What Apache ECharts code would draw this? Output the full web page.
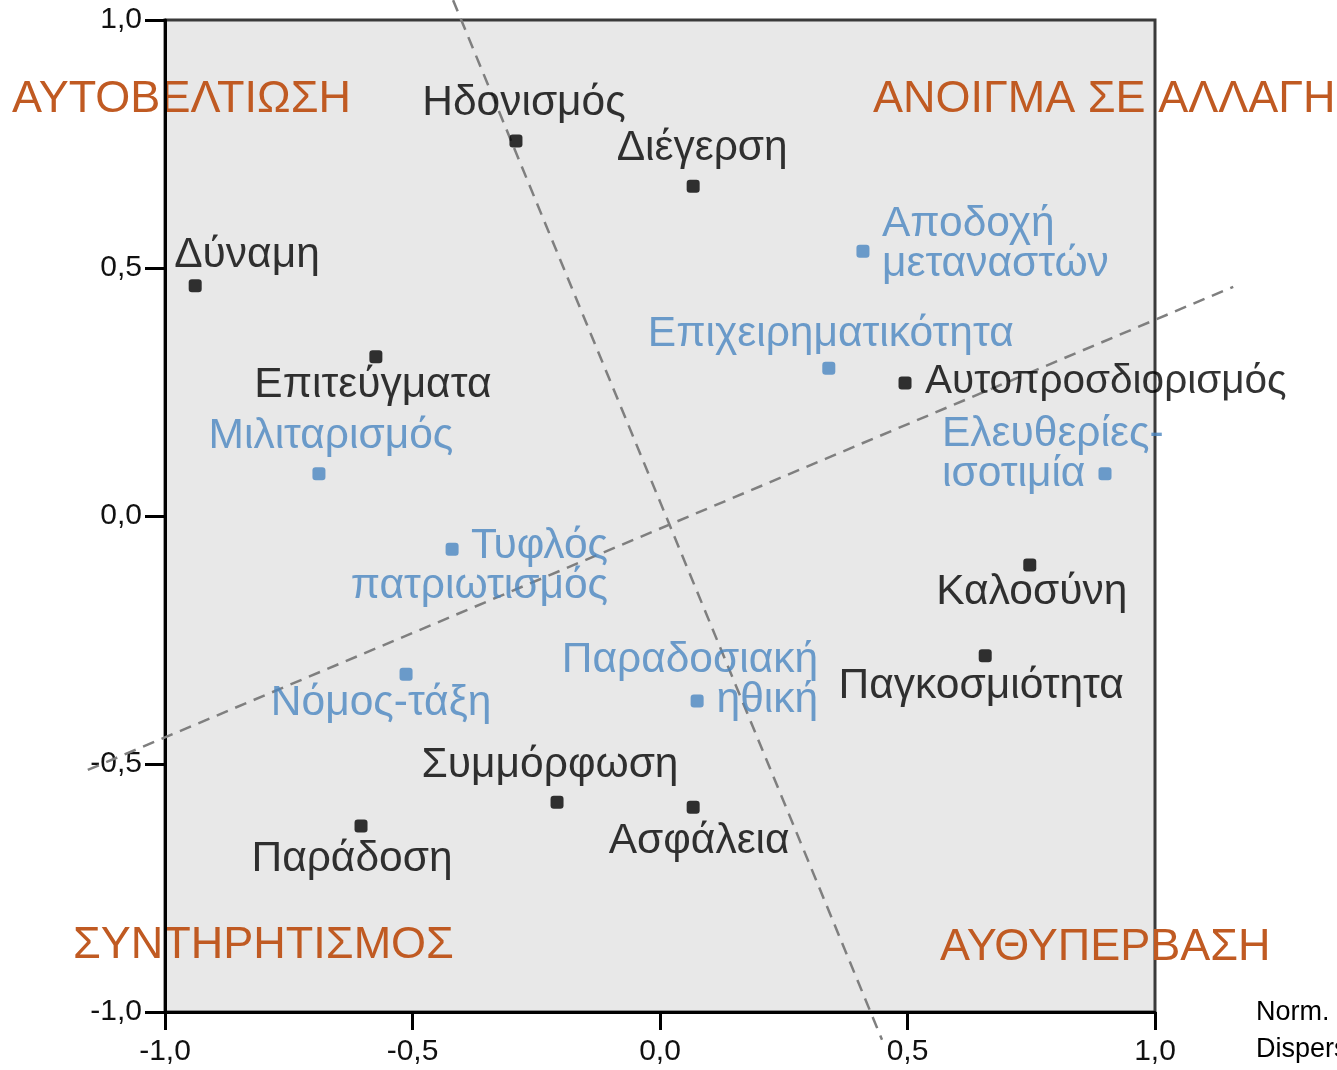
<!DOCTYPE html>
<html>
<head>
<meta charset="utf-8">
<script src="https://cdn.jsdelivr.net/npm/echarts@6/dist/echarts.min.js"></script>
<style>
  html, body { margin: 0; padding: 0; background: #fff; }
  #chart { width: 1337px; height: 1070px; }
</style>
</head>
<body>
<div id="chart"></div>
<script>
// values (black = basic values, blue = attitudes)
const valueNames = ['Ηδονισμός', 'Διέγερση', 'Δύναμη', 'Επιτεύγματα', 'Αυτοπροσδιορισμός',
  'Καλοσύνη', 'Παγκοσμιότητα', 'Συμμόρφωση', 'Ασφάλεια', 'Παράδοση']
const valueX = [-0.291, 0.067, -0.939, -0.574, 0.495, 0.747, 0.657, -0.208, 0.067, -0.604]
const valueY = [0.756, 0.665, 0.464, 0.321, 0.268, -0.099, -0.282, -0.577, -0.587, -0.625]

const attitudeNames = ['Αποδοχή\nμεταναστών', 'Επιχειρηματικότητα', 'Ελευθερίες-\nισοτιμία',
  'Μιλιταρισμός', 'Τυφλός\nπατριωτισμός', 'Νόμος-τάξη', 'Παραδοσιακή\nηθική']
const attitudeX = [0.410, 0.341, 0.899, -0.689, -0.420, -0.513, 0.075]
const attitudeY = [0.534, 0.298, 0.085, 0.085, -0.067, -0.319, -0.373]

// dashed dividing lines
const line1 = [[-0.418, 1.040], [0.4485, -1.056]]
const line2 = [[-1.156, -0.512], [1.158, 0.462]]

// label placement: [align, dx, dy]
const place = {
  'Ηδονισμός': ['center', 8, -38],
  'Διέγερση': ['center', 9, -38],
  'Δύναμη': ['left', -21, -31],
  'Επιτεύγματα': ['center', -3, 28],
  'Αυτοπροσδιορισμός': ['left', 20, -1, 40.5],
  'Καλοσύνη': ['center', 2, 27],
  'Παγκοσμιότητα': ['center', -4, 30],
  'Συμμόρφωση': ['center', -7, -37],
  'Ασφάλεια': ['center', 6, 34],
  'Παράδοση': ['center', -9, 33],
  'Αποδοχή\nμεταναστών': ['left', 19, -7],
  'Επιχειρηματικότητα': ['center', 2, -34],
  'Ελευθερίες-\nισοτιμία': ['left', -163, -20],
  'Μιλιταρισμός': ['center', 12, -38],
  'Τυφλός\nπατριωτισμός': ['right', 156, 17],
  'Νόμος-τάξη': ['center', -25, 29],
  'Παραδοσιακή\nηθική': ['right', 121, -21],
}

const font = '"Liberation Sans", Arial, sans-serif'
const black = '#000'
const blue = '#4a86c0'
const orange = '#c05a22'

const fmt = v => v.toFixed(1).replace('.', ',')

const makePoints = (names, xs, ys, color) => names.map((n, i) => {
  const p = place[n]
  return {
    name: n,
    value: [xs[i], ys[i]],
    label: {
      show: true,
      formatter: n,
      position: 'inside',
      align: p[0],
      verticalAlign: 'middle',
      offset: [p[1], p[2]],
      color: color,
      fontSize: p[3] || 42.5,
      fontFamily: font,
      lineHeight: 40,
      textBorderWidth: 0,
    },
  }
})

const corner = (text, left, top) => ({
  type: 'text', left, top,
  style: { text, fill: orange, font: '45px ' + font },
})

const chart = echarts.init(document.getElementById('chart'))
chart.setOption({
  animation: false,
  backgroundColor: '#fff',
  grid: {
    left: 165, top: 20, right: 182, bottom: 58,
    show: true, backgroundColor: '#e8e8e8', borderColor: '#3a3a3a', borderWidth: 3,
  },
  xAxis: {
    type: 'value', min: -1, max: 1, interval: 0.5,
    axisLine: { onZero: false, lineStyle: { color: black, width: 3 } },
    axisTick: { show: true, length: 18, lineStyle: { color: black, width: 3 } },
    splitLine: { show: false },
    axisLabel: { formatter: fmt, color: '#111', fontSize: 30, fontFamily: font, margin: 25 },
  },
  yAxis: {
    type: 'value', min: -1, max: 1, interval: 0.5,
    axisLine: { show: true, onZero: false, lineStyle: { color: black, width: 3 } },
    axisTick: { show: true, length: 20, lineStyle: { color: black, width: 3 } },
    splitLine: { show: false },
    axisLabel: { formatter: fmt, color: '#111', fontSize: 30, fontFamily: font, margin: 23, padding: [10, 0, 0, 0] },
  },
  graphic: [
    corner('ΑΥΤΟΒΕΛΤΙΩΣΗ', 12, 77),
    corner('ΑΝΟΙΓΜΑ ΣΕ ΑΛΛΑΓΗ', 873, 77),
    corner('ΣΥΝΤΗΡΗΤΙΣΜΟΣ', 73, 923),
    corner('ΑΥΘΥΠΕΡΒΑΣΗ', 940, 925),
    {
      type: 'text', left: 1256, top: 994,
      style: { text: 'Norm.\nDispersion', fill: '#000', font: '27px ' + font, lineHeight: 37 },
    },
  ],
  series: [
    {
      type: 'lines',
      coordinateSystem: 'cartesian2d',
      clip: false,
      silent: true,
      z: 1,
      data: [{ coords: line1 }, { coords: line2 }],
      lineStyle: { color: '#7f7f7f', width: 2.5, type: [12, 8], opacity: 1 },
    },
    {
      type: 'scatter',
      symbol: 'roundRect',
      symbolSize: 13,
      itemStyle: { color: black },
      z: 3,
      data: makePoints(valueNames, valueX, valueY, black),
    },
    {
      type: 'scatter',
      symbol: 'roundRect',
      symbolSize: 13,
      itemStyle: { color: blue },
      z: 3,
      data: makePoints(attitudeNames, attitudeX, attitudeY, blue),
    },
  ],
})
</script>
</body>
</html>
